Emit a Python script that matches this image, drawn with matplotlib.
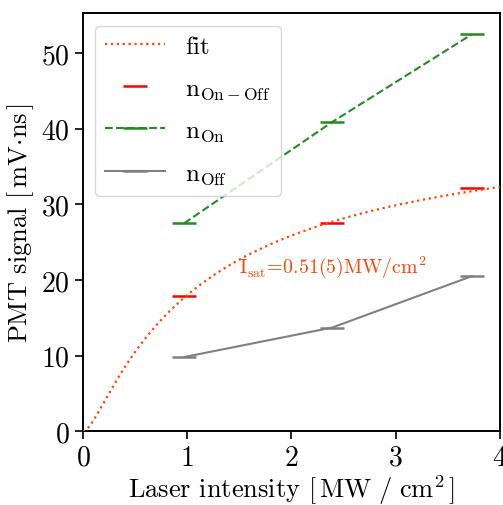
import numpy as np
import matplotlib
matplotlib.use("Agg")
import matplotlib.pyplot as plt

plt.rcParams['font.family'] = 'serif'
plt.rcParams['font.serif'] = ['cmr10']
plt.rcParams['mathtext.fontset'] = 'cm'
plt.rcParams['axes.formatter.use_mathtext'] = True

# Data
intensity = [0.97, 2.39, 3.73]
n_on = [27.5, 40.9, 52.5]
n_off = [9.8, 13.7, 20.5]
n_diff = [17.9, 27.5, 32.2]

# Fit model parameters (saturation curve A*I^2/(I^2 + b*I + c))
fit_A = 42.07
fit_b = 1.167
fit_c = 0.170

x_ticks = [0, 1, 2, 3, 4]
y_ticks = [0, 10, 20, 30, 40, 50]

fig = plt.figure(figsize=(5.03, 5.06), dpi=100)
ax = fig.add_axes([0.165, 0.146, 0.829, 0.826])

xf = np.linspace(0, 4, 400)
yf = fit_A * xf**2 / (xf**2 + fit_b * xf + fit_c)

ax.plot(xf, yf, linestyle=':', color='orangered', lw=1.6, label=r'$\mathrm{fit}$', zorder=3)
ax.plot(intensity, n_diff, linestyle='none', marker='_', markersize=17, mew=1.8,
        color='red', label=r'$\mathrm{n_{On-Off}}$', zorder=2)
ax.plot(intensity, n_on, linestyle='--', marker='_', markersize=17, mew=1.8,
        color='forestgreen', lw=1.5, label=r'$\mathrm{n_{On}}$', zorder=2)
ax.plot(intensity, n_off, linestyle='-', marker='_', markersize=17, mew=1.8,
        color='gray', lw=1.5, label=r'$\mathrm{n_{Off}}$', zorder=2)

ax.text(1.5, 21.0, r'$\mathrm{I_{sat}\!=\!0.51(5)MW/cm^2}$', color='orangered',
        fontsize=14.3, va='baseline', ha='left')

ax.set_xlim(0, 4)
ax.set_ylim(0, 55.3)
ax.set_xticks(x_ticks)
ax.set_yticks(y_ticks)
ax.tick_params(direction='out', length=6, width=1.2, labelsize=20)
for s in ax.spines.values():
    s.set_linewidth(1.4)

ax.set_xlabel(r'Laser intensity $[\,\mathrm{MW\ /\ cm^2}\,]$', fontsize=19, labelpad=1)
ax.set_ylabel(r'PMT signal $[\,\mathrm{mV{\cdot}ns}\,]$', fontsize=19, labelpad=4)

ax.legend(loc='upper left', fontsize=18, handlelength=2.4, framealpha=0.8,
          labelspacing=0.75)

fig.savefig('out.png', dpi=100)
